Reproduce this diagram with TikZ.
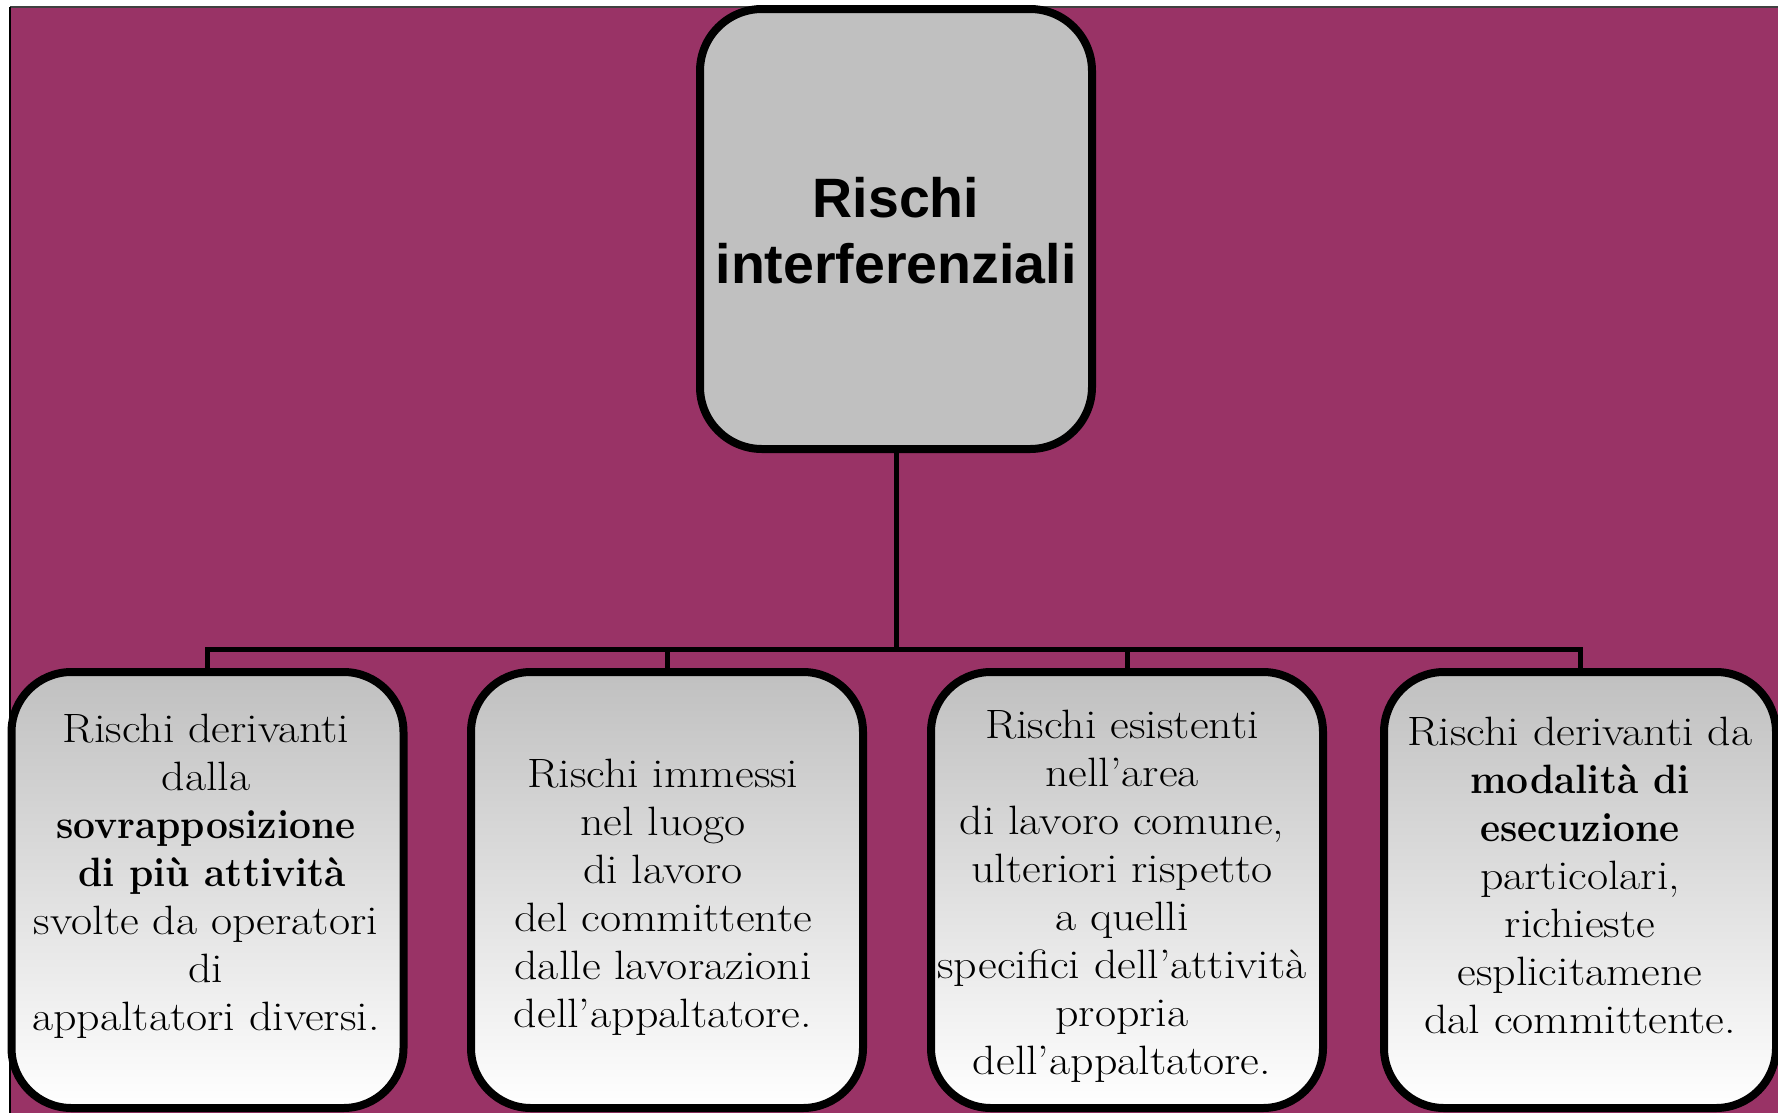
\documentclass[tikz,border=0pt]{standalone}
\usepackage{fontspec}
\newfontfamily\headfont{Liberation Sans}
\newfontfamily\bodyfont{Latin Modern Roman}[FakeStretch=1.12]
\newfontfamily\bodybold{Latin Modern Roman}[FakeStretch=0.95]
\newcommand{\bb}[1]{{\bodybold\bfseries #1}}
\usetikzlibrary{backgrounds}
\definecolor{bgpurple}{RGB}{153,51,102}
\definecolor{boxsilver}{RGB}{192,192,192}
\tikzset{
  topbox/.style={draw=black, line width=8pt, rounded corners=62pt, fill=boxsilver,
    minimum width=392pt, minimum height=440pt, inner sep=0pt},
  subbox/.style={draw=black, line width=8pt, rounded corners=60pt,
    top color=boxsilver, bottom color=white,
    minimum width=392pt, minimum height=436pt, inner sep=0pt},
  conn/.style={draw=black, line width=5pt},
  subtext/.style={inner sep=0pt, anchor=base, font=\bodyfont\fontsize{41}{48}\selectfont},
  headtext/.style={inner sep=0pt, anchor=base, font=\headfont\bfseries\fontsize{55.5}{66}\selectfont},
}
\setlength{\tabcolsep}{0pt}
\begin{document}
\begin{tikzpicture}[x=1pt, y=-1pt]
\useasboundingbox (0,0) rectangle (1778,1112);

% boxes
\node[topbox] (top) at (896,229) {};
\node[subbox] (b1) at (207.5,890) {};
\node[subbox] (b2) at (667,890) {};
\node[subbox] (b3) at (1127,890) {};
\node[subbox] (b4) at (1580,890) {};

% texts
\node[headtext] (ttop) at (896,217) {\begin{tabular}[t]{c}Rischi\hspace{16pt}\\interferenziali\end{tabular}};
\node[subtext] (t1) at (206,742) {\begin{tabular}[t]{c}Rischi derivanti\\dalla\\
  \bb{sovrapposizione}\\ \hspace{12pt}\bb{di più attività}\\svolte da operatori\\di\\appaltatori diversi.\end{tabular}};
\node[subtext] (t2) at (663,787) {\begin{tabular}[t]{c}Rischi immessi\\nel luogo\\di lavoro\\
  del committente\\dalle lavorazioni\\dell’appaltatore.\end{tabular}};
\node[subtext] (t3) at (1122,738) {\begin{tabular}[t]{c}Rischi esistenti\\nell’area\\
  di lavoro comune,\\ulteriori rispetto\\a quelli\\specifici dell’attività\\propria\\dell’appaltatore.\end{tabular}};
\node[subtext] (t4) at (1580,745) {\begin{tabular}[t]{c}Rischi derivanti da\\\bb{modalità di}\\
  \bb{esecuzione}\\particolari,\\richieste\\esplicitamene\\dal committente.\end{tabular}};

\coordinate (bar) at (0,649);

\begin{scope}[on background layer]
  \fill[bgpurple] (10,7) rectangle (1790,1120);
  \draw[black!75, line width=1.5pt] (1790,7) -- (10,7);
  \draw[black, line width=2.5pt] (10,1120) -- (10,7);
  \draw[conn] (top.south) -- (top.south |- bar);
  \draw[conn] (b1.north) -- (b1.north |- bar) -- (b4.north |- bar) -- (b4.north);
  \draw[conn] (b2.north) -- (b2.north |- bar);
  \draw[conn] (b3.north) -- (b3.north |- bar);
\end{scope}
\end{tikzpicture}
\end{document}
